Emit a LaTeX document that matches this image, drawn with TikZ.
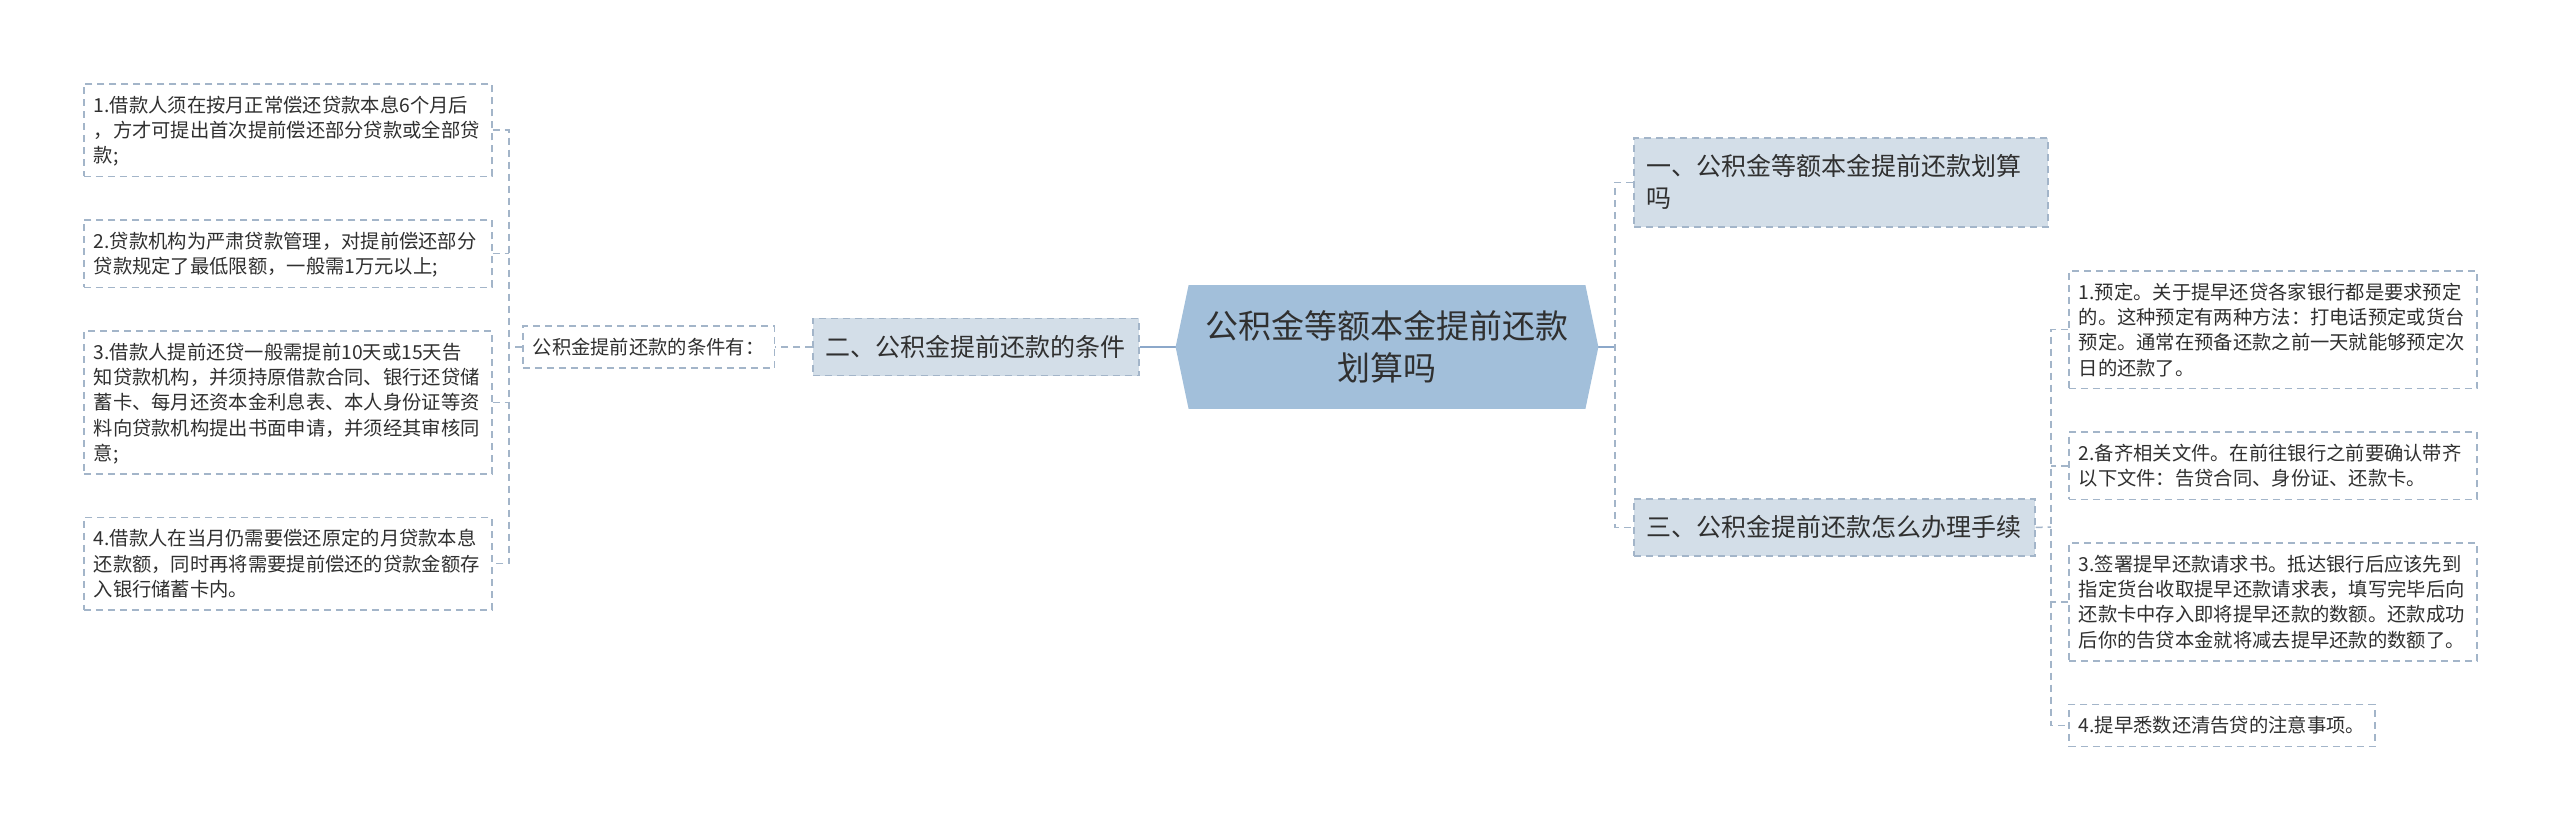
\documentclass[tikz,border=0pt]{standalone}
\usepackage{fontspec}
\setmainfont{Noto Sans CJK SC}
\usetikzlibrary{positioning,calc,backgrounds}
\definecolor{zhonglan}{RGB}{162,191,218}
\definecolor{qianlan}{RGB}{211,222,232}
\definecolor{xianlan}{RGB}{163,181,201}
\definecolor{shilan}{RGB}{140,168,202}
\definecolor{wenzi}{RGB}{48,48,48}
\newcommand{\fenhao}{\smash{;}}
\tikzset{
  zhuti/.style={rectangle,minimum width=198pt,minimum height=61.5pt,align=center,
    text=wenzi,font=\fontsize{16.5pt}{21pt}\selectfont},
  fenzhi/.style={rectangle,draw=xianlan,line width=0.75pt,dash pattern=on 3.5pt off 2.5pt,
    fill=qianlan,text=wenzi,align=left,inner xsep=6.5pt,inner ysep=8.5pt,
    font=\fontsize{12.5pt}{16pt}\selectfont},
  yezi/.style={rectangle,draw=xianlan,line width=0.75pt,dash pattern=on 3.5pt off 2.5pt,
    fill=white,text=wenzi,align=left,inner xsep=5pt,inner ysep=6pt,
    font=\fontsize{9.65pt}{12.65pt}\selectfont},
  yezik/.style={yezi,text width=194pt},
  xu/.style={draw=xianlan,line width=0.75pt,dash pattern=on 3.5pt off 2.5pt},
  shi/.style={draw=shilan,line width=1pt},
}
\begin{document}
\begin{tikzpicture}[x=0.5pt,y=-0.5pt,node distance=21pt]
  \useasboundingbox (0,0) rectangle (2560,831);
  % centre and the three branches
  \node[zhuti] (c) at (1387,347) {公积金等额本金提前还款\\划算吗};
  \node[fenzhi,left=24.5pt of c] (er) {二、公积金提前还款的条件};
  \node[yezi,left=18.5pt of er] (tiao) {公积金提前还款的条件有：};
  \node[fenzhi,text width=194pt,anchor=north west] (yi) at (1633,137) {一、公积金等额本金提前还款划算\\吗};
  \node[fenzhi,anchor=north west] (san) at (1633,498) {三、公积金提前还款怎么办理手续};
  % left leaves
  \node[yezik,anchor=north west] (L1) at (83,83) {1.借款人须在按月正常偿还贷款本息6个月后\\，方才可提出首次提前偿还部分贷款或全部贷\\款\fenhao};
  \node[yezik,below=of L1.south west,anchor=north west] (L2) {2.贷款机构为严肃贷款管理，对提前偿还部分\\贷款规定了最低限额，一般需1万元以上\fenhao};
  \node[yezik,below=of L2.south west,anchor=north west] (L3) {3.借款人提前还贷一般需提前10天或15天告\\知贷款机构，并须持原借款合同、银行还贷储\\蓄卡、每月还资本金利息表、本人身份证等资\\料向贷款机构提出书面申请，并须经其审核同\\意\fenhao};
  \node[yezik,below=of L3.south west,anchor=north west] (L4) {4.借款人在当月仍需要偿还原定的月贷款本息\\还款额，同时再将需要提前偿还的贷款金额存\\入银行储蓄卡内。};
  % right leaves
  \node[yezik,anchor=north west] (R1) at (2068,270) {1.预定。关于提早还贷各家银行都是要求预定\\的。这种预定有两种方法：打电话预定或货台\\预定。通常在预备还款之前一天就能够预定次\\日的还款了。};
  \node[yezik,below=of R1.south west,anchor=north west] (R2) {2.备齐相关文件。在前往银行之前要确认带齐\\以下文件：告贷合同、身份证、还款卡。};
  \node[yezik,below=of R2.south west,anchor=north west] (R3) {3.签署提早还款请求书。抵达银行后应该先到\\指定货台收取提早还款请求表，填写完毕后向\\还款卡中存入即将提早还款的数额。还款成功\\后你的告贷本金就将减去提早还款的数额了。};
  \node[yezi,below=of R3.south west,anchor=north west] (R4) {4.提早悉数还清告贷的注意事项。};
  % bracket points
  \coordinate (lk) at (509,347);
  \coordinate (zk) at (1615,347);
  \coordinate (rk) at (2051,527);
  % connectors
  \draw[xu] (L1.east) -| (lk |- L4.east) -- (L4.east);
  \foreach \n in {L2,L3} \draw[xu] (\n.east) -- (lk |- \n.east);
  \draw[xu] (tiao.west) -- (lk);
  \draw[xu] (er.west) -- (tiao.east);
  \draw[xu] (yi.west) -| (zk |- san.west) -- (san.west);
  \draw[xu] (san.east) -- (rk);
  \draw[xu] (R1.west) -| (rk |- R4.west) -- (R4.west);
  \foreach \n in {R2,R3} \draw[xu] (\n.west) -- (rk |- \n.west);
  \begin{scope}[on background layer]
    \fill[white] (0,0) rectangle (2560,831);
    \draw[shi] (er.east) -- (c.west);
    \draw[shi] (c.east) -- (zk);
    \fill[zhonglan] (c.north west) -- (c.north east) -- ($(c.east)+(13,0)$) -- (c.south east)
      -- (c.south west) -- ($(c.west)+(-13,0)$) -- cycle;
  \end{scope}
\end{tikzpicture}
\end{document}
